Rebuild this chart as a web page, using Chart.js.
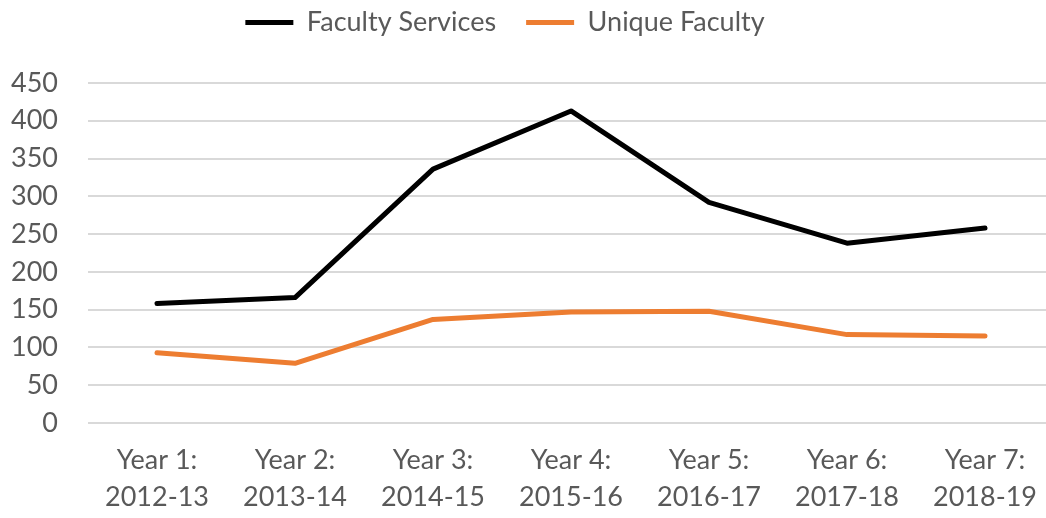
<!DOCTYPE html>
<html>
<head>
<meta charset="utf-8">
<script src="https://cdn.jsdelivr.net/npm/chart.js@4.4.1/dist/chart.umd.min.js"></script>
<style>
  html, body { margin: 0; padding: 0; background: #fff; overflow: hidden; }
  #wrap { position: absolute; left: 0; top: 0; width: 1056px; height: 518px; }
</style>
</head>
<body>
<div id="wrap"><canvas id="chart"></canvas></div>
<script>
// categories and series
const years = [
    ['Year 1:', '2012-13'],
    ['Year 2:', '2013-14'],
    ['Year 3:', '2014-15'],
    ['Year 4:', '2015-16'],
    ['Year 5:', '2016-17'],
    ['Year 6:', '2017-18'],
    ['Year 7:', '2018-19']
];
const facultyServices = [158, 166, 336, 413, 292, 238, 258];
const uniqueFaculty = [93, 79, 137, 147, 148, 117, 115];
const yTicks = [0, 50, 100, 150, 200, 250, 300, 350, 400, 450];

const textColor = '#595959';
const font = { family: 'Lato', size: 27 };

// Excel style legend: more room below it, nudged left and up
const legendTweak = {
    id: 'legendTweak',
    beforeInit(chart) {
        const fit = chart.legend.fit;
        chart.legend.fit = function () {
            fit.call(this);
            this.height += 16;
        };
    },
    afterLayout(chart) {
        const lg = chart.legend;
        lg.left -= 28;
        lg.right -= 28;
        lg.top -= 21;
    }
};

new Chart(document.getElementById('chart'), {
    type: 'line',
    data: {
        labels: years,
        datasets: [
            {
                label: 'Faculty Services',
                data: facultyServices,
                borderColor: '#000000',
                backgroundColor: '#000000',
                borderWidth: 5,
                borderCapStyle: 'round',
                borderJoinStyle: 'round',
                pointRadius: 0,
                pointStyle: 'line',
                tension: 0
            },
            {
                label: 'Unique Faculty',
                data: uniqueFaculty,
                borderColor: '#ED7D31',
                backgroundColor: '#ED7D31',
                borderWidth: 5,
                borderCapStyle: 'round',
                borderJoinStyle: 'round',
                pointRadius: 0,
                pointStyle: 'line',
                tension: 0
            }
        ]
    },
    options: {
        responsive: true,
        maintainAspectRatio: false,
        devicePixelRatio: 1,
        animation: false,
        layout: { padding: { left: 10, right: 0, top: 0, bottom: 2 } },
        plugins: {
            legend: {
                position: 'top',
                labels: {
                    usePointStyle: true,
                    pointStyleWidth: 48,
                    padding: 30,
                    color: textColor,
                    font: font
                }
            },
            tooltip: { enabled: false }
        },
        scales: {
            x: {
                offset: true,
                grid: { display: false, drawTicks: false },
                border: { display: false },
                afterFit(axis) { axis.height = 93; },
                ticks: {
                    color: textColor,
                    font: { family: 'Lato', size: 27, lineHeight: 1.37 },
                    padding: 19,
                    maxRotation: 0,
                    autoSkip: false
                }
            },
            y: {
                min: yTicks[0],
                max: yTicks[yTicks.length - 1],
                grid: { color: '#d9d9d9', lineWidth: 2, drawTicks: false },
                border: { display: false },
                afterBuildTicks(axis) {
                    axis.ticks = yTicks.map(v => ({ value: v }));
                },
                afterFit(axis) { axis.width = 78; },
                ticks: {
                    color: textColor,
                    font: font,
                    padding: 30
                }
            }
        }
    },
    plugins: [legendTweak]
});
</script>
</body>
</html>
